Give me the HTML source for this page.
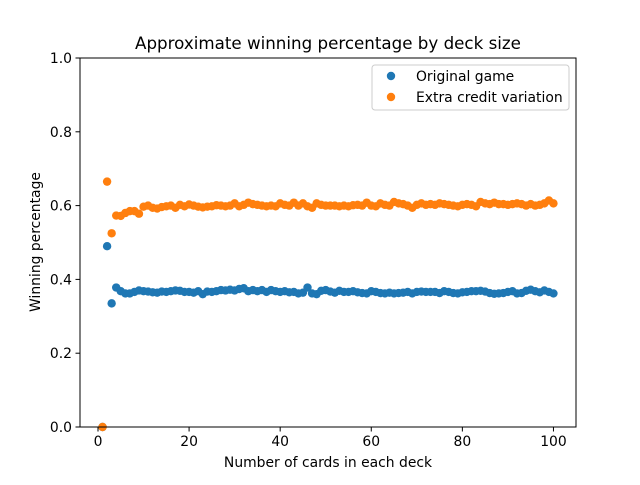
<!DOCTYPE html>
<html><head><meta charset="utf-8"><style>
body{margin:0;background:#fff;font-family:"Liberation Sans","DejaVu Sans",sans-serif}
svg text{font-family:"DejaVu Sans","Liberation Sans",sans-serif;fill:#000}
</style></head><body>
<svg id="chart" width="640" height="480" viewBox="0 0 640 480">
<rect width="640" height="480" fill="#fff"/>
<text x="328" y="49" font-size="16.7" text-anchor="middle">Approximate winning percentage by deck size</text>
<g id="marks"></g>
<rect x="80" y="58" width="496" height="369" fill="none" stroke="#000" stroke-width="1"/>
<g id="axes"></g>
<text x="328" y="467" font-size="13.9" text-anchor="middle">Number of cards in each deck</text>
<text transform="translate(40,242) rotate(-90)" font-size="13.9" text-anchor="middle">Winning percentage</text>
<g>
<rect x="372" y="65" width="197" height="45" rx="3" fill="#fff" stroke="#ccc" stroke-width="1"/>
<circle cx="391" cy="76" r="4.2" fill="#1f77b4"/>
<text x="416" y="81" font-size="13.9">Original game</text>
<circle cx="391" cy="97" r="4.2" fill="#ff7f0e"/>
<text x="416" y="102" font-size="13.9">Extra credit variation</text>
</g>
</svg>
<script>
const original = [0,0.49,0.335,0.378,0.368,0.362,0.362,0.366,0.370,0.368,0.367,0.365,0.364,0.367,0.366,0.368,0.370,0.369,0.366,0.366,0.364,0.368,0.360,0.367,0.366,0.368,0.371,0.370,0.372,0.370,0.374,0.376,0.368,0.371,0.368,0.371,0.366,0.371,0.368,0.366,0.368,0.365,0.366,0.362,0.364,0.378,0.362,0.360,0.369,0.371,0.367,0.364,0.369,0.366,0.366,0.368,0.365,0.363,0.362,0.368,0.366,0.363,0.362,0.364,0.362,0.363,0.364,0.366,0.362,0.366,0.367,0.366,0.366,0.366,0.363,0.368,0.366,0.363,0.362,0.365,0.366,0.368,0.368,0.369,0.367,0.363,0.361,0.362,0.363,0.366,0.368,0.362,0.363,0.369,0.372,0.368,0.365,0.370,0.366,0.362];
const extra = [0,0.665,0.525,0.573,0.572,0.580,0.585,0.585,0.578,0.597,0.600,0.594,0.592,0.596,0.598,0.600,0.594,0.602,0.598,0.603,0.600,0.597,0.595,0.597,0.598,0.601,0.600,0.598,0.600,0.606,0.598,0.602,0.608,0.604,0.602,0.600,0.598,0.600,0.598,0.606,0.602,0.600,0.608,0.600,0.606,0.598,0.594,0.606,0.602,0.600,0.600,0.600,0.598,0.600,0.598,0.601,0.602,0.600,0.608,0.600,0.598,0.606,0.602,0.600,0.610,0.606,0.604,0.600,0.594,0.602,0.606,0.602,0.604,0.602,0.606,0.604,0.602,0.600,0.598,0.602,0.604,0.602,0.598,0.610,0.606,0.604,0.608,0.604,0.604,0.602,0.604,0.606,0.604,0.600,0.604,0.600,0.602,0.606,0.614,0.606];
const xTicks = [0,20,40,60,80,100];
const yTicks = [0,0.2,0.4,0.6,0.8,1.0];
const yTickLabels = ["0.0","0.2","0.4","0.6","0.8","1.0"];

const NS="http://www.w3.org/2000/svg";
const xMin=-3.95, xMax=104.95, L=80, R=576, T=58, B=427;
function xs(v){return L+(v-xMin)/(xMax-xMin)*(R-L);}
function ys(v){return B-v*(B-T);}
const marks=document.getElementById('marks'), axes=document.getElementById('axes');
function series(arr,color,name){
  arr.forEach((v,i)=>{
    const c=document.createElementNS(NS,'circle');
    c.setAttribute('cx',xs(i+1));c.setAttribute('cy',ys(v));c.setAttribute('r',4.2);c.setAttribute('fill',color);
    
    
    marks.appendChild(c);
  });
}
series(original,'#1f77b4','original');
series(extra,'#ff7f0e','extra');
xTicks.forEach(t=>{
  const x=xs(t);
  const l=document.createElementNS(NS,'line');
  l.setAttribute('x1',x);l.setAttribute('x2',x);l.setAttribute('y1',B);l.setAttribute('y2',B+4.5);l.setAttribute('stroke','#000');
  
  
  axes.appendChild(l);
  const tx=document.createElementNS(NS,'text');
  tx.setAttribute('x',x);tx.setAttribute('y',B+19);tx.setAttribute('font-size','13.9');tx.setAttribute('text-anchor','middle');
  tx.textContent=t;
  
  
  axes.appendChild(tx);
});
yTicks.forEach((t,i)=>{
  const y=ys(t);
  const l=document.createElementNS(NS,'line');
  l.setAttribute('x1',L-4.5);l.setAttribute('x2',L);l.setAttribute('y1',y);l.setAttribute('y2',y);l.setAttribute('stroke','#000');
  
  
  axes.appendChild(l);
  const tx=document.createElementNS(NS,'text');
  tx.setAttribute('x',L-8);tx.setAttribute('y',y+5);tx.setAttribute('font-size','13.9');tx.setAttribute('text-anchor','end');
  tx.textContent=yTickLabels[i];
  
  
  axes.appendChild(tx);
});
</script>
</body></html>
